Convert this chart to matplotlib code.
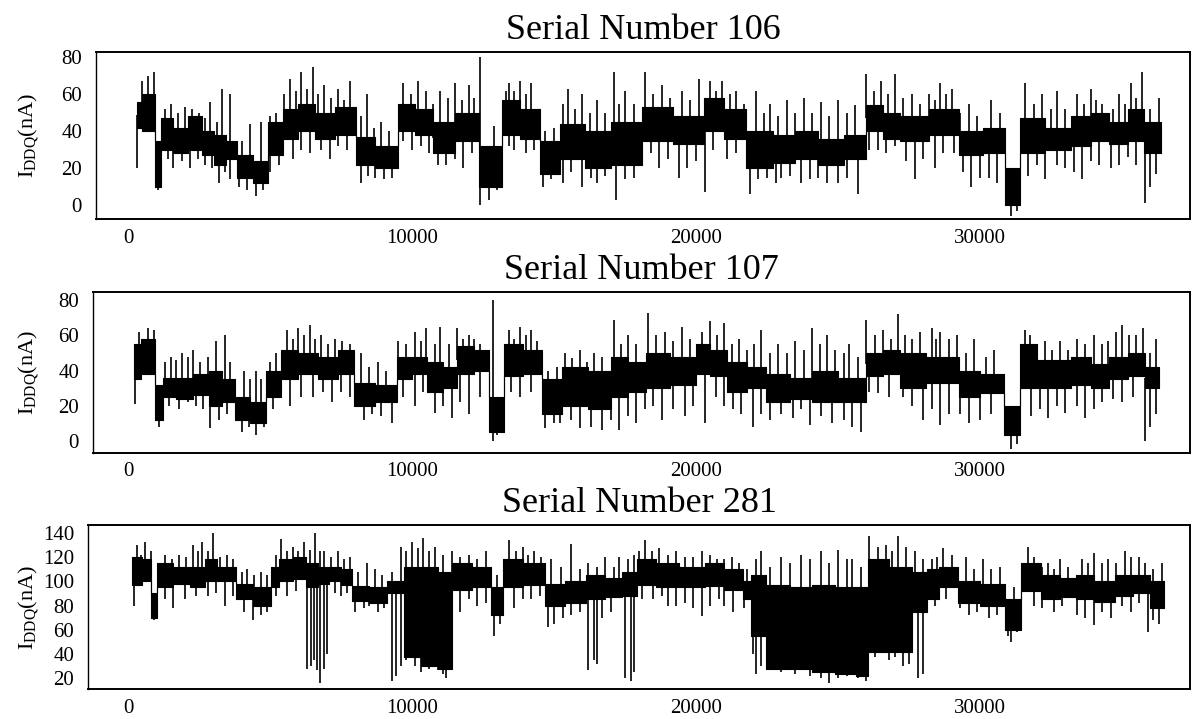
import numpy as np
import matplotlib
matplotlib.use('Agg')
import matplotlib.pyplot as plt

plt.rcParams['font.family'] = ['Liberation Serif', 'DejaVu Serif']
plt.rcParams['mathtext.fontset'] = 'custom'
plt.rcParams['mathtext.rm'] = 'Liberation Serif'

# ---- Serial Number 106 : dense core (step edges, low, high) and spikes ----
edges106 = [300, 500, 950, 1150, 1600, 2100, 2600, 3040, 3450, 3850, 4400, 4930, 5470, 6000, 6600,
            7300, 8040, 8700, 9520, 10100, 10740, 11500, 12360, 13170, 13800, 14520, 15200, 16100,
            17000, 18100, 19200, 20270, 21000, 21770, 22720, 23500, 24300, 25200, 25980, 26600,
            27200, 28200, 29250, 30100, 30880, 31400, 32300, 33190, 33900, 34550, 35200, 35780, 36390]
lo106 = [42, 40, 10, 30, 28, 30, 27, 22, 25, 15, 12, 27, 36, 40, 36, 38, 22, 20, 40, 38, 28, 35, 10,
         38, 36, 17, 25, 20, 22, 35, 33, 40, 36, 20, 23, 25, 22, 25, 40, 36, 35, 38, 27, 28, 0, 28,
         30, 32, 35, 33, 35, 28]
hi106 = [56, 60, 35, 47, 42, 48, 40, 38, 35, 27, 24, 45, 52, 55, 50, 53, 37, 32, 55, 52, 45, 50, 32,
         57, 52, 35, 44, 40, 45, 53, 48, 58, 52, 40, 38, 40, 36, 38, 54, 50, 48, 52, 40, 42, 20, 47,
         42, 48, 50, 45, 52, 45]
up_x106 = [500, 700, 900, 1300, 1500, 1750, 2000, 2250, 2500, 2700, 2900, 3150, 3300, 3600, 4000,
           4300, 4700, 5000, 5200, 5500, 5700, 5900, 6100, 6300, 6500, 6700, 6900, 7150, 7400, 7600,
           7800, 8200, 8400, 8650, 8900, 9200, 9700, 9950, 10200, 10500, 10750, 11000, 11250, 11500,
           11750, 12000, 12200, 12400, 12900, 13300, 13400, 13600, 13800, 14000, 14200, 14700, 15000,
           15300, 15500, 15750, 16000, 16250, 16500, 16800, 17100, 17300, 17500, 17800, 18200, 18500,
           18800, 19100, 19500, 19800, 20100, 20500, 20700, 20900, 21200, 21400, 21700, 22100, 22400,
           22600, 22900, 23200, 23500, 23800, 24100, 24400, 24700, 25000, 25300, 25600, 26000, 26250,
           26500, 26750, 27000, 27300, 27600, 27900, 28200, 28400, 28600, 28800, 29000, 29300, 29600,
           29900, 30400, 30700, 31600, 31900, 32200, 32500, 32700, 33000, 33400, 33650, 33900, 34100,
           34300, 34700, 34900, 35100, 35300, 35500, 35700, 36000, 36300]
up_y106 = [67, 70, 72, 52, 55, 50, 53, 52, 50, 47, 56, 45, 63, 60, 35, 44, 45, 48, 50, 60, 68, 62, 72,
           63, 75, 60, 65, 58, 63, 57, 67, 48, 60, 42, 45, 40, 66, 60, 67, 62, 55, 62, 58, 66, 57, 65,
           58, 80, 43, 62, 66, 62, 67, 60, 66, 40, 42, 55, 63, 52, 60, 50, 57, 50, 72, 55, 62, 55, 72,
           60, 65, 58, 62, 57, 68, 67, 62, 67, 60, 62, 55, 62, 50, 55, 48, 57, 50, 58, 50, 56, 48, 57,
           50, 54, 71, 62, 67, 60, 71, 58, 60, 55, 60, 57, 66, 60, 63, 50, 55, 48, 57, 50, 66, 55, 60,
           52, 62, 52, 60, 55, 63, 57, 55, 52, 60, 55, 66, 58, 72, 52, 58]
dn_x106 = [300, 1050, 1400, 1600, 1900, 2200, 2450, 2700, 2950, 3200, 3400, 3600, 3900, 4200, 4500,
           4750, 5000, 5300, 5800, 6100, 6400, 6800, 7100, 7400, 7700, 8200, 8450, 8700, 9000, 9300,
           9700, 10000, 10300, 10600, 10900, 11200, 11500, 11800, 12100, 12400, 12700, 13000, 13400,
           13600, 14000, 14300, 14600, 14900, 15300, 15600, 16000, 16300, 16500, 16800, 17200, 17500,
           17800, 18100, 18400, 18700, 19000, 19400, 19700, 20000, 20300, 20600, 21100, 21400, 21900,
           22200, 22500, 22800, 23000, 23300, 23700, 24000, 24300, 24600, 25000, 25300, 25700, 26100,
           26400, 26700, 27000, 27400, 27700, 28000, 28400, 28700, 29100, 29400, 29700, 30000, 30300,
           30600, 31100, 31300, 31700, 32000, 32300, 32700, 33000, 33300, 33600, 33900, 34200, 34600,
           34900, 35200, 35500, 35800, 36000, 36200]
dn_y106 = [20, 8, 25, 20, 24, 20, 25, 22, 20, 12, 18, 14, 10, 8, 5, 8, 18, 22, 25, 30, 28, 30, 25, 32,
           30, 12, 16, 15, 14, 15, 35, 30, 32, 28, 22, 22, 25, 20, 28, 0, 3, 8, 32, 30, 28, 30, 10, 14,
           12, 18, 10, 15, 12, 16, 3, 14, 15, 22, 28, 20, 25, 15, 20, 24, 7, 30, 25, 28, 6, 14, 15, 12,
           15, 16, 12, 14, 15, 12, 12, 15, 6, 30, 30, 28, 32, 24, 14, 25, 20, 28, 28, 18, 10, 15, 15,
           12, -6, -3, 16, 22, 14, 22, 20, 18, 14, 24, 22, 20, 22, 26, 22, 1, 10, 17]

# ---- Serial Number 107 ----
edges107 = [200, 450, 950, 1220, 1700, 2300, 2840, 3300, 3780, 4300, 4860, 5400, 6000, 6700, 7400,
            7970, 8700, 9460, 10000, 10540, 11100, 11600, 12200, 12700, 13240, 13900, 14590, 15270,
            16200, 17010, 17600, 18230, 19100, 20000, 20500, 21090, 21800, 22450, 23300, 24100, 25000,
            25980, 26600, 27200, 28100, 29250, 30000, 30850, 31400, 32000, 33190, 33900, 34550, 35200,
            35800, 36300]
lo107 = [35, 38, 12, 25, 24, 26, 20, 22, 12, 10, 25, 35, 38, 35, 38, 20, 22, 35, 38, 28, 30, 38, 40, 5,
         37, 38, 15, 20, 18, 25, 28, 30, 32, 38, 37, 28, 30, 22, 24, 22, 22, 37, 38, 30, 33, 25, 27, 3,
         30, 30, 32, 30, 35, 37, 30]
hi107 = [55, 58, 32, 36, 36, 38, 40, 35, 25, 22, 40, 52, 50, 48, 52, 33, 32, 48, 48, 45, 42, 54, 52, 25,
         55, 52, 35, 42, 40, 48, 45, 50, 48, 55, 52, 45, 42, 38, 36, 40, 36, 50, 52, 50, 48, 40, 38, 20,
         55, 46, 48, 44, 48, 50, 42]
up_x107 = [400, 700, 900, 1300, 1500, 1700, 1900, 2100, 2300, 2550, 2800, 3100, 3400, 3600, 4100, 4300,
           4500, 4700, 5000, 5200, 5600, 5800, 6000, 6200, 6400, 6600, 6800, 7050, 7300, 7550, 7800,
           8200, 8500, 8800, 9100, 9500, 9800, 10100, 10300, 10500, 10800, 11000, 11300, 11600, 11800,
           12000, 12200, 12400, 12850, 13400, 13600, 13800, 14000, 14200, 14400, 14800, 15100, 15400,
           15650, 15900, 16150, 16400, 16700, 17100, 17350, 17600, 17900, 18300, 18600, 18900, 19200,
           19500, 19800, 20200, 20500, 20750, 21000, 21250, 21500, 21800, 22050, 22300, 22600, 22900,
           23200, 23500, 23800, 24100, 24350, 24600, 24900, 25200, 25400, 25700, 26000, 26300, 26600,
           26850, 27100, 27350, 27600, 27900, 28300, 28450, 28600, 28900, 29200, 29500, 29800, 30200,
           30500, 31600, 31750, 32000, 32300, 32550, 32800, 33100, 33400, 33700, 34000, 34300, 34500,
           34800, 35000, 35250, 35500, 35750, 36000, 36200]
up_y107 = [62, 64, 63, 45, 48, 46, 50, 48, 52, 45, 48, 57, 60, 45, 40, 35, 40, 35, 45, 50, 63, 58, 64,
           60, 66, 58, 60, 55, 58, 57, 55, 50, 42, 45, 40, 57, 55, 62, 57, 64, 55, 65, 55, 64, 58, 60,
           58, 55, 80, 63, 58, 65, 60, 63, 57, 40, 42, 50, 47, 52, 45, 50, 48, 69, 55, 60, 55, 73, 60,
           62, 57, 65, 58, 62, 68, 60, 67, 55, 58, 52, 55, 63, 50, 55, 50, 57, 52, 64, 55, 60, 52, 50,
           55, 48, 69, 60, 63, 58, 72, 60, 58, 62, 64, 58, 62, 58, 60, 50, 58, 48, 52, 63, 60, 55, 57,
           52, 57, 52, 58, 55, 60, 55, 57, 62, 66, 60, 60, 64, 50, 58]
dn_x107 = [250, 1100, 1450, 1800, 2100, 2400, 2650, 2900, 3200, 3500, 4000, 4250, 4500, 4800, 5100,
           5700, 6100, 6500, 6850, 7200, 7500, 7800, 8300, 8600, 8900, 9300, 9700, 10100, 10400, 10800,
           11100, 11400, 11700, 12000, 12400, 12850, 13000, 13500, 13800, 14200, 14700, 15000, 15200,
           15600, 15900, 16300, 16700, 17000, 17300, 17600, 17900, 18200, 18500, 18800, 19200, 19600,
           19900, 20300, 20700, 21000, 21300, 21600, 22000, 22300, 22600, 23000, 23400, 23700, 24000,
           24400, 24800, 25200, 25500, 25800, 26100, 26400, 26800, 27300, 27600, 28000, 28300, 28600,
           28900, 29300, 29600, 30000, 30400, 31100, 31300, 31800, 32100, 32400, 32700, 33000, 33400,
           33700, 34000, 34300, 34700, 35000, 35400, 35800, 36000, 36200]
dn_y107 = [21, 8, 20, 18, 22, 20, 18, 7, 12, 15, 5, 8, 3, 8, 18, 20, 25, 25, 28, 22, 28, 25, 12, 15,
           14, 10, 25, 20, 28, 16, 20, 13, 22, 15, 25, 0, 3, 28, 25, 28, 7, 10, 10, 12, 7, 8, 6, 12, 6,
           14, 10, 18, 20, 12, 18, 14, 20, 10, 25, 20, 18, 15, 8, 15, 12, 15, 13, 18, 9, 14, 10, 12, 8,
           5, 28, 27, 25, 25, 20, 12, 18, 9, 15, 15, 10, 12, 15, -5, -2, 14, 18, 13, 20, 16, 20, 13, 18,
           22, 24, 22, 25, 0, 8, 15]

# ---- Serial Number 281 ----
edges281 = [140, 500, 820, 1020, 1600, 2200, 2700, 3130, 3810, 4400, 5030, 5300, 5800, 6260, 6700,
            7070, 7500, 7890, 8500, 9110, 9720, 10300, 10900, 11420, 12100, 12780, 13190, 13900,
            14690, 15400, 16140, 16800, 17380, 17930, 18600, 19400, 20300, 21000, 21650, 21930,
            22480, 23300, 24100, 24900, 25650, 26070, 26800, 27590, 28140, 28550, 29240, 30000,
            30890, 31450, 32140, 32800, 33380, 34000, 34760, 35400, 36000, 36480]
lo281 = [97, 100, 70, 95, 98, 95, 100, 100, 85, 80, 95, 100, 102, 95, 98, 100, 97, 84, 82, 90, 38, 30,
         28, 93, 95, 72, 95, 97, 80, 82, 85, 87, 88, 97, 95, 95, 96, 93, 85, 55, 28, 28, 25, 24, 22,
         42, 42, 75, 85, 95, 82, 80, 60, 92, 85, 87, 85, 83, 88, 90, 78]
hi281 = [120, 118, 90, 115, 112, 112, 118, 112, 98, 95, 112, 118, 120, 115, 112, 112, 110, 96, 95, 100,
         112, 112, 108, 115, 112, 95, 118, 115, 98, 100, 105, 103, 108, 118, 115, 112, 115, 110, 100,
         105, 97, 95, 97, 95, 95, 118, 112, 108, 110, 112, 100, 98, 85, 115, 105, 103, 105, 100, 105,
         105, 100]
up_x281 = [300, 450, 600, 800, 1300, 1550, 1800, 2050, 2300, 2450, 2600, 2800, 3000, 3250, 3500, 3700,
           4000, 4200, 4450, 4700, 4900, 5200, 5400, 5600, 5800, 6000, 6200, 6400, 6600, 6750, 6900,
           7150, 7400, 7600, 7800, 8100, 8400, 8700, 8950, 9300, 9600, 9800, 10000, 10200, 10400,
           10600, 10800, 11100, 11400, 11700, 12000, 12300, 12600, 13000, 13400, 13650, 13900, 14100,
           14300, 14550, 14900, 15250, 15600, 15900, 16200, 16500, 16800, 17100, 17300, 17600, 17800,
           18000, 18200, 18450, 18700, 19000, 19300, 19600, 19900, 20200, 20500, 20750, 21000, 21250,
           21500, 21800, 22100, 22300, 22600, 23000, 23300, 23700, 24000, 24400, 24700, 25000, 25300,
           25500, 25800, 26100, 26400, 26700, 26900, 27100, 27400, 27700, 28000, 28300, 28500, 28700,
           29000, 29500, 29800, 30100, 30400, 30700, 31200, 31700, 31900, 32200, 32400, 32600, 32800,
           33100, 33600, 33800, 34000, 34300, 34500, 34800, 35100, 35300, 35600, 35800, 36100, 36400]
up_y281 = [130, 122, 132, 125, 122, 118, 122, 120, 130, 125, 132, 125, 140, 120, 122, 118, 108, 110,
           105, 108, 105, 122, 135, 125, 128, 125, 132, 126, 140, 125, 125, 120, 125, 118, 120, 108,
           115, 110, 105, 108, 128, 125, 132, 127, 136, 125, 128, 122, 125, 120, 122, 118, 125, 105,
           134, 125, 128, 122, 125, 120, 118, 112, 131, 110, 115, 112, 120, 112, 120, 118, 122, 125,
           134, 125, 127, 122, 125, 120, 120, 125, 122, 118, 118, 120, 115, 110, 118, 125, 112, 120,
           115, 122, 118, 125, 115, 126, 118, 118, 112, 137, 128, 130, 125, 137, 128, 125, 118, 118,
           120, 127, 122, 120, 110, 118, 110, 112, 95, 128, 120, 112, 115, 110, 118, 112, 118, 115,
           123, 115, 118, 115, 125, 120, 120, 115, 110, 115]
dn_x281 = [200, 900, 1300, 1600, 2000, 2400, 2800, 3100, 3400, 3700, 4100, 4400, 4700, 4900, 5200, 5600,
           5900, 6300, 6450, 6550, 6650, 6750, 6900, 7000, 7300, 7500, 7700, 8000, 8300, 8500, 8800,
           9000, 9300, 9450, 9600, 9800, 10100, 10300, 10600, 10900, 11100, 11200, 11350, 11700,
           12000, 12300, 12600, 12900, 13100, 13600, 13900, 14200, 14500, 14800, 15000, 15300, 15600,
           15900, 16200, 16400, 16500, 16700, 17000, 17500, 17700, 17800, 18100, 18500, 18800, 19000,
           19300, 19600, 19900, 20200, 20500, 20800, 21000, 21300, 21700, 22000, 22100, 22300, 23000,
           23500, 24000, 24400, 24700, 25000, 25300, 25700, 26000, 26300, 26800, 27000, 27300, 27500,
           27800, 28000, 28400, 28800, 29300, 29600, 29900, 30300, 30600, 31000, 31100, 31300, 31900,
           32200, 32600, 32900, 33400, 33700, 34000, 34300, 34600, 35000, 35300, 35600, 35900, 36100,
           36300]
dn_y281 = [80, 68, 85, 78, 85, 88, 88, 90, 80, 88, 75, 68, 72, 75, 88, 88, 92, 28, 30, 35, 27, 16, 28,
           40, 90, 88, 90, 75, 78, 80, 75, 78, 18, 22, 30, 35, 30, 25, 28, 27, 24, 20, 30, 75, 85, 80,
           82, 55, 65, 78, 85, 85, 88, 62, 65, 70, 72, 75, 27, 35, 32, 70, 75, 20, 18, 25, 85, 85, 88,
           80, 80, 82, 78, 71, 80, 85, 80, 75, 78, 40, 24, 30, 25, 24, 22, 20, 16, 20, 22, 20, 18, 38,
           35, 38, 30, 32, 20, 24, 80, 85, 78, 72, 75, 70, 72, 55, 50, 58, 80, 78, 75, 80, 72, 70, 64,
           75, 70, 80, 75, 82, 58, 68, 65]

xticks = [0, 10000, 20000, 30000]

panels = [
    ('Serial Number 106', edges106, lo106, hi106, up_x106, up_y106, dn_x106, dn_y106,
     (-7.4, 83), [0, 20, 40, 60, 80], [96, 51.7, 1190, 219]),
    ('Serial Number 107', edges107, lo107, hi107, up_x107, up_y107, dn_x107, dn_y107,
     (-6.9, 85), [0, 20, 40, 60, 80], [93, 291.7, 1190, 452.7]),
    ('Serial Number 281', edges281, lo281, hi281, up_x281, up_y281, dn_x281, dn_y281,
     (11, 146.3), [20, 40, 60, 80, 100, 120, 140], [88, 525, 1190, 689.3]),
]

W, H = 1192, 719
fig = plt.figure(figsize=(W / 100, H / 100), dpi=100)
fig.patch.set_facecolor('white')

for title, edges, lo, hi, ux, uy, dx, dy, ylim, yt, box in panels:
    l, t, r, b = box
    ax = fig.add_axes([l / W, 1 - b / H, (r - l) / W, (b - t) / H])
    edges = np.array(edges)
    ax.fill_between(edges, np.append(lo, lo[-1]), np.append(hi, hi[-1]),
                    step='post', color='black', lw=0.8)
    # spikes start from the middle of the core they belong to
    mid = (np.array(lo) + np.array(hi)) / 2.0
    iu = np.clip(np.searchsorted(edges, ux, side='right') - 1, 0, len(mid) - 1)
    idn = np.clip(np.searchsorted(edges, dx, side='right') - 1, 0, len(mid) - 1)
    ax.vlines(ux, mid[iu], uy, color='black', lw=1.2)
    ax.vlines(dx, dy, mid[idn], color='black', lw=1.2)

    # x mapping: tick 0 sits at ~128 px, 1000 units ~ 28.4 px
    ax.set_xlim((l - 128) / 0.0284, (r - 128) / 0.0284)
    ax.set_ylim(*ylim)
    ax.set_yticks(yt)
    ax.set_xticks(xticks)
    ax.tick_params(length=0, labelsize=15)
    ax.tick_params(axis='y', pad=10)
    ax.tick_params(axis='x', pad=7)
    for s in ax.spines.values():
        s.set_linewidth(1.4)
    ax.spines['left'].set_linestyle((0, (1, 1)))
    ax.spines['left'].set_linewidth(1.0)
    ax.set_ylabel(r'$\mathregular{I_{DDQ}}$(nA)', fontsize=16)
    ax.yaxis.set_label_coords((41 - l) / (r - l), 0.5)
    ax.set_title(title, fontsize=26, pad=9)

fig.savefig('out.png', dpi=100, facecolor='white')
